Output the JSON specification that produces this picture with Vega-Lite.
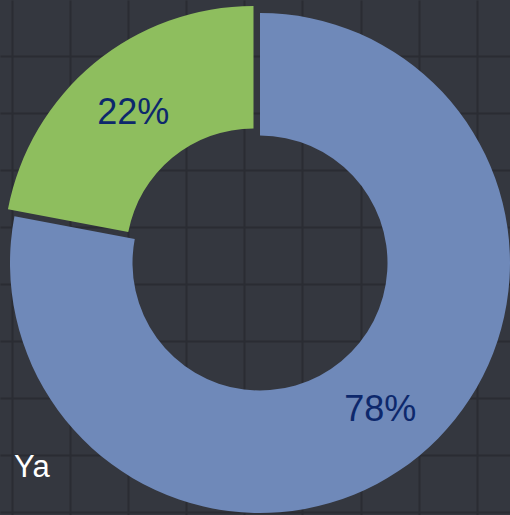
{
  "$schema": "https://vega.github.io/schema/vega-lite/v6.json",
  "width": 510,
  "height": 515,
  "padding": 0,
  "autosize": {"type": "none"},
  "background": "#34373f",
  "config": {
    "view": {"stroke": null},
    "axis": {"gridColor": "#2a2c33", "gridWidth": 2, "gridOpacity": 1, "labels": false, "ticks": false, "domain": false, "title": null}
  },
  "title": {"text": "Ya", "orient": "bottom", "anchor": "start", "frame": "group", "offset": -38, "dx": 14, "baseline": "alphabetic", "fontSize": 31, "font": "Liberation Sans", "fontWeight": "normal", "color": "#ffffff"},
  "data": {"values": [{"category": "Ya", "value": 0.78}, {"category": "Tidak", "value": 0.22}]},
  "transform": [{"stack": "value", "groupby": [], "sort": [{"field": "value", "order": "descending"}], "as": ["start", "end"]}],
  "layer": [
    {
      "mark": {"type": "point", "opacity": 0},
      "encoding": {
        "x": {"field": "value", "type": "quantitative", "scale": {"domain": [0, 510], "nice": false, "zero": false}, "axis": {"values": [12, 70, 128, 186, 244, 302.3, 360.5, 418.5, 476.5], "grid": true}},
        "y": {"field": "value", "type": "quantitative", "scale": {"domain": [0, 515], "nice": false, "zero": false, "reverse": true}, "axis": {"values": [56, 113, 170, 227, 284, 341, 398, 454.5, 511.5], "grid": true}}
      }
    },
    {
      "transform": [{"filter": "datum.category === 'Ya'"}],
      "mark": {"type": "arc", "outerRadius": 250, "innerRadius": 127.5, "xOffset": 5, "yOffset": 5.5},
      "encoding": {
        "theta": {"field": "start", "type": "quantitative", "scale": {"domain": [0, 1]}},
        "theta2": {"field": "end"},
        "color": {"field": "category", "type": "nominal", "scale": {"domain": ["Ya", "Tidak"], "range": ["#6f89b9", "#8ebe5e"]}, "legend": null}
      }
    },
    {
      "transform": [{"filter": "datum.category === 'Tidak'"}],
      "mark": {"type": "arc", "outerRadius": 250, "innerRadius": 127.5, "xOffset": -1.5, "yOffset": -1.5},
      "encoding": {
        "theta": {"field": "start", "type": "quantitative", "scale": {"domain": [0, 1]}},
        "theta2": {"field": "end"},
        "color": {"field": "category", "type": "nominal", "scale": {"domain": ["Ya", "Tidak"], "range": ["#6f89b9", "#8ebe5e"]}, "legend": null}
      }
    },
    {
      "transform": [{"filter": "datum.category === 'Ya'"}],
      "mark": {"type": "text", "radius": 188.75, "thetaOffset": 2.4504, "xOffset": 5, "yOffset": 5.5, "dy": 2, "fontSize": 36, "font": "Liberation Sans", "color": "#0d286c", "align": "center", "baseline": "middle"},
      "encoding": {
        "theta": {"field": "start", "type": "quantitative", "scale": {"domain": [0, 1]}},
        "text": {"field": "value", "type": "quantitative", "format": ".0%"}
      }
    },
    {
      "transform": [{"filter": "datum.category === 'Tidak'"}],
      "mark": {"type": "text", "radius": 188.75, "thetaOffset": 0.6912, "xOffset": -1.5, "yOffset": -1.5, "dy": 2, "fontSize": 36, "font": "Liberation Sans", "color": "#0d286c", "align": "center", "baseline": "middle"},
      "encoding": {
        "theta": {"field": "start", "type": "quantitative", "scale": {"domain": [0, 1]}},
        "text": {"field": "value", "type": "quantitative", "format": ".0%"}
      }
    }
  ]
}
